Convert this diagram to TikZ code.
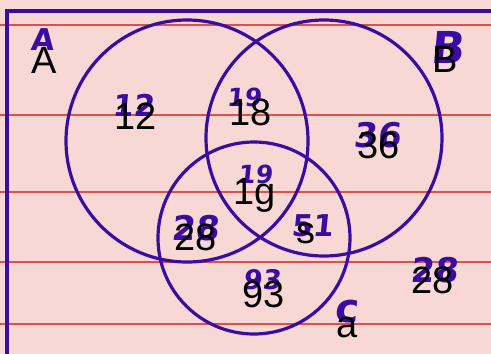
\documentclass[tikz,border=0pt]{standalone}
\usepackage{fontspec}
\setmainfont{Liberation Sans}
\newfontfamily\handfont[FakeSlant=0.1]{DejaVu Sans}
\usetikzlibrary{positioning}
\definecolor{Paper}{HTML}{F8D8D4}
\definecolor{Ink}{HTML}{3A0CA3}
\definecolor{Rule}{HTML}{E0504A}

\begin{document}
\begin{tikzpicture}[x=1pt,y=-1pt,
  lbl/.style={anchor=base,inner sep=0pt,font=\fontsize{38}{40}\selectfont},
  hand/.style={Ink,inner sep=0pt,font=\handfont\bfseries\fontsize{30}{32}\selectfont}]
  \fill[Paper] (0,0) rectangle (491,354);
  \useasboundingbox (0,0) rectangle (491,354);
  % ruled paper
  \foreach \y in {25,115,192,262,324}
    \draw[Rule,line width=1.1pt] (0,\y) -- (491,\y);
  \draw[Ink,line width=3.4pt] (7,354) -- (7,11) -- (491,11);
  % the three sets
  \draw[Ink,line width=3.2pt] (187,141) circle[radius=121pt];
  \draw[Ink,line width=3.2pt] (324,138) circle[radius=118pt];
  \draw[Ink,line width=3.2pt] (254,238) circle[radius=96pt];
  % pen marks underneath
  \node[hand] (hA) at (42,40) {A};
  \node[hand] (h12) at (133,105) {12};
  \node[hand,font=\handfont\bfseries\fontsize{25}{27}\selectfont] (h19a) at (244,97) {19};
  \node[hand,font=\handfont\bfseries\fontsize{44}{46}\selectfont] (hB) at (447,47) {B};
  \node[hand,font=\handfont\bfseries\fontsize{34}{36}\selectfont] (h36) at (377,135) {36};
  \node[hand,font=\handfont\bfseries\fontsize{25}{27}\selectfont] (h19b) at (255,174) {19};
  \node[hand,font=\handfont\bfseries\fontsize{34}{36}\selectfont] (h28a) at (195,228) {28};
  \node[hand] (h51) at (312,226) {51};
  \node[hand,font=\handfont\bfseries\fontsize{27}{29}\selectfont] (h93) at (262,280) {93};
  \node[hand,font=\handfont\bfseries\fontsize{34}{36}\selectfont] (h28b) at (434,270) {28};
  \node[hand,font=\handfont\bfseries\fontsize{40}{42}\selectfont] (hc) at (346,312) {c};
  % typed labels
  \node[lbl] (labA) at (44,73) {A};
  \node[lbl] (lab12) at (136,129) {12};
  \node[lbl] (lab18) at (251,125) {18};
  \node[lbl] (labB) at (445,72) {B};
  \node[lbl] (lab36) at (379,158) {36};
  \node[lbl] (lab1g) at (255,204) {1g};
  \node[lbl] (lab28a) at (196,250) {28};
  \node[lbl] (labs) at (306,243) {s};
  \node[lbl] (lab93) at (264,307) {93};
  \node[lbl] (lab28b) at (433,293) {28};
  \node[lbl] (laba) at (347,337) {a};
\end{tikzpicture}
\end{document}
